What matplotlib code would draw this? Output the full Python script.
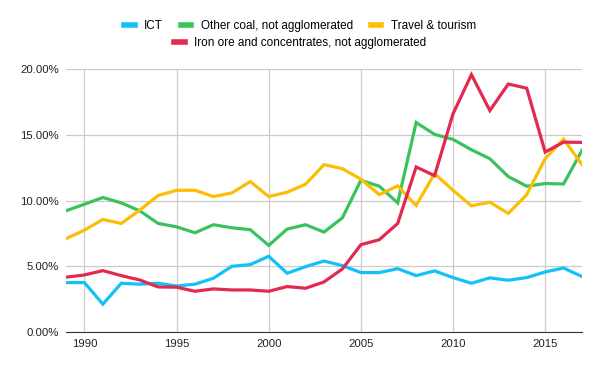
import matplotlib.pyplot as plt
from matplotlib.ticker import FuncFormatter, MultipleLocator

plt.rcParams['font.family'] = ['Liberation Sans', 'DejaVu Sans']

years = list(range(1989, 2018))

ict = [3.76, 3.76, 2.12, 3.71, 3.64, 3.71, 3.50, 3.64, 4.09, 5.00,
       5.13, 5.76, 4.47, 4.97, 5.40, 5.05, 4.52, 4.52, 4.82, 4.29,
       4.65, 4.14, 3.71, 4.12, 3.94, 4.14, 4.57, 4.87, 4.22]

coal = [9.22, 9.72, 10.23, 9.82, 9.22, 8.26, 8.00, 7.55, 8.16, 7.93,
        7.78, 6.59, 7.83, 8.16, 7.60, 8.69, 11.54, 11.09, 9.82, 15.93,
        15.03, 14.65, 13.86, 13.18, 11.82, 11.09, 11.29, 11.26, 13.81]

travel = [7.10, 7.75, 8.56, 8.26, 9.27, 10.38, 10.78, 10.78, 10.30, 10.58,
          11.44, 10.30, 10.63, 11.24, 12.73, 12.42, 11.62, 10.45, 11.11, 9.62,
          12.05, 10.78, 9.60, 9.87, 9.02, 10.45, 13.18, 14.67, 12.73]

iron = [4.17, 4.34, 4.67, 4.29, 3.96, 3.43, 3.41, 3.10, 3.28, 3.20,
        3.20, 3.10, 3.46, 3.33, 3.81, 4.80, 6.64, 7.02, 8.26, 12.55,
        11.89, 16.59, 19.57, 16.84, 18.86, 18.54, 13.69, 14.44, 14.42]

labels = ['ICT', 'Other coal, not agglomerated', 'Travel & tourism',
          'Iron ore and concentrates, not agglomerated']
colors = ['#12c1f7', '#3ac35c', '#fbbd05', '#e2294f']

fig = plt.figure(figsize=(6, 3.71), dpi=100)
ax = fig.add_axes([0.11, 0.105, 0.86, 0.709])

handles = []
for vals, lab, col in zip([ict, coal, travel, iron], labels, colors):
    h, = ax.plot(years, vals, color=col, lw=2.3, label=lab,
                 solid_joinstyle='miter')
    handles.append(h)

ax.set_xlim(1989, 2017)
ax.set_ylim(0, 20)
ax.yaxis.set_major_locator(MultipleLocator(5))
ax.xaxis.set_major_locator(MultipleLocator(5))
ax.yaxis.set_major_formatter(FuncFormatter(lambda v, p: f'{v:.2f}%'))
ax.grid(True, color='#cccccc', lw=0.9)
ax.set_axisbelow(True)
for s in ['top', 'right', 'left']:
    ax.spines[s].set_visible(False)
ax.spines['bottom'].set_color('#333333')
ax.tick_params(length=0, labelsize=8.2, colors='#222222', pad=5)

# two legends so the second row is centred like the original
leg1 = fig.legend(handles[:3], labels[:3], loc='center', ncol=3,
                  bbox_to_anchor=(0.5, 0.93), frameon=False, fontsize=8.5,
                  handlelength=0.9, handletextpad=0.8, columnspacing=1.5)
for l in leg1.get_lines():
    l.set_linewidth(4)
leg2 = fig.legend(handles[3:], labels[3:], loc='center',
                  bbox_to_anchor=(0.5, 0.883), frameon=False, fontsize=8.5,
                  handlelength=0.9, handletextpad=0.8)
for l in leg2.get_lines():
    l.set_linewidth(4)

fig.savefig('out.png', dpi=100)
